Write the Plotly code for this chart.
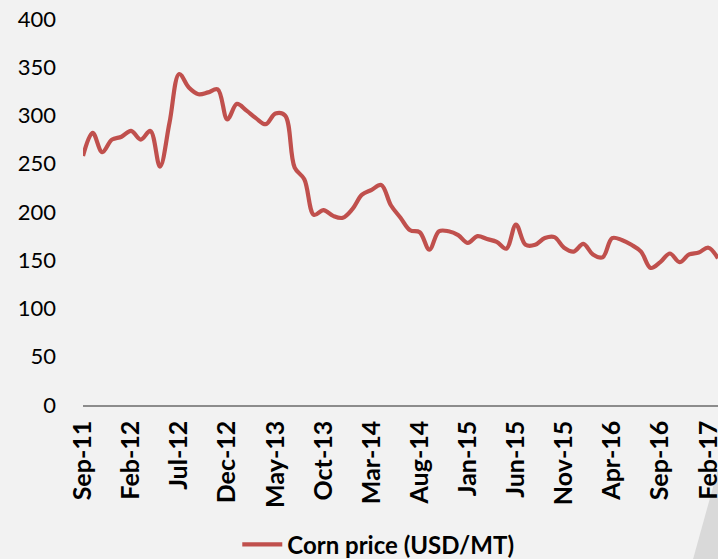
import plotly.graph_objects as go

months = [
    "Sep-11", "Oct-11", "Nov-11", "Dec-11",
    "Jan-12", "Feb-12", "Mar-12", "Apr-12", "May-12", "Jun-12", "Jul-12", "Aug-12", "Sep-12", "Oct-12", "Nov-12", "Dec-12",
    "Jan-13", "Feb-13", "Mar-13", "Apr-13", "May-13", "Jun-13", "Jul-13", "Aug-13", "Sep-13", "Oct-13", "Nov-13", "Dec-13",
    "Jan-14", "Feb-14", "Mar-14", "Apr-14", "May-14", "Jun-14", "Jul-14", "Aug-14", "Sep-14", "Oct-14", "Nov-14", "Dec-14",
    "Jan-15", "Feb-15", "Mar-15", "Apr-15", "May-15", "Jun-15", "Jul-15", "Aug-15", "Sep-15", "Oct-15", "Nov-15", "Dec-15",
    "Jan-16", "Feb-16", "Mar-16", "Apr-16", "May-16", "Jun-16", "Jul-16", "Aug-16", "Sep-16", "Oct-16", "Nov-16", "Dec-16",
    "Jan-17", "Feb-17", "Mar-17",
]

corn_price = [
    258, 282, 262, 275,
    278, 284, 275, 284, 247, 293, 343, 329, 322, 324, 327, 296,
    312, 305, 297, 291, 302, 300, 246, 234, 197, 202, 196, 194,
    203, 218, 223, 228, 207, 194, 181, 179, 161, 180, 180, 176,
    168, 175, 172, 169, 162, 187, 166, 166, 173, 174, 163, 159,
    167, 156, 153, 173, 171, 166, 159, 142, 148, 157, 148, 156,
    158, 163, 152,
]

tick_labels = months[::5]
y_ticks = [0, 50, 100, 150, 200, 250, 300, 350, 400]

FONT = "Lato, 'Open Sans', sans-serif"

fig = go.Figure()
fig.add_trace(go.Scatter(
    x=months, y=corn_price, mode="lines",
    name="<b>Corn price (USD/MT)</b>",
    line=dict(color="#c0504d", width=4.2, shape="spline", smoothing=1.0),
))

fig.update_layout(
    width=718, height=559,
    paper_bgcolor="#f2f2f2", plot_bgcolor="#f2f2f2",
    margin=dict(l=83, r=0, t=19, b=154, autoexpand=False),
    font=dict(family=FONT, size=23, color="#000000"),
    showlegend=True,
    legend=dict(
        orientation="h", x=0.465, xanchor="center", y=-0.362, yanchor="middle",
        font=dict(family=FONT, size=24, color="#000000"),
        bgcolor="rgba(0,0,0,0)", itemwidth=40,
    ),
    xaxis=dict(
        type="category", categoryorder="array", categoryarray=months,
        range=[0, len(months) - 1], automargin=False,
        tickmode="array", tickvals=tick_labels,
        ticktext=["<b>%s</b>" % t for t in tick_labels],
        tickangle=-90, ticks="", ticklabelstandoff=4,
        showgrid=False, zeroline=False,
        showline=True, linecolor="#8c8c8c", linewidth=1.5,
        tickfont=dict(family=FONT, size=25, color="#000000"),
    ),
    yaxis=dict(
        range=[0, 400], tickmode="array", tickvals=y_ticks, automargin=False,
        showgrid=False, zeroline=False, showline=False, ticks="",
        ticklabelstandoff=26,
        tickfont=dict(family=FONT, size=22, color="#000000"),
    ),
    shapes=[dict(
        type="path", xref="paper", yref="paper", layer="below",
        path="M 1.0,-0.1662 L 1.0,-0.4 L 0.9606,-0.4 Z",
        fillcolor="#d9d9d9", line=dict(width=0),
    )],
)

fig.write_html(
    "out.html",
    config={"displayModeBar": False},
    post_script="document.body.style.margin='0';document.body.style.background='#f2f2f2';",
)
